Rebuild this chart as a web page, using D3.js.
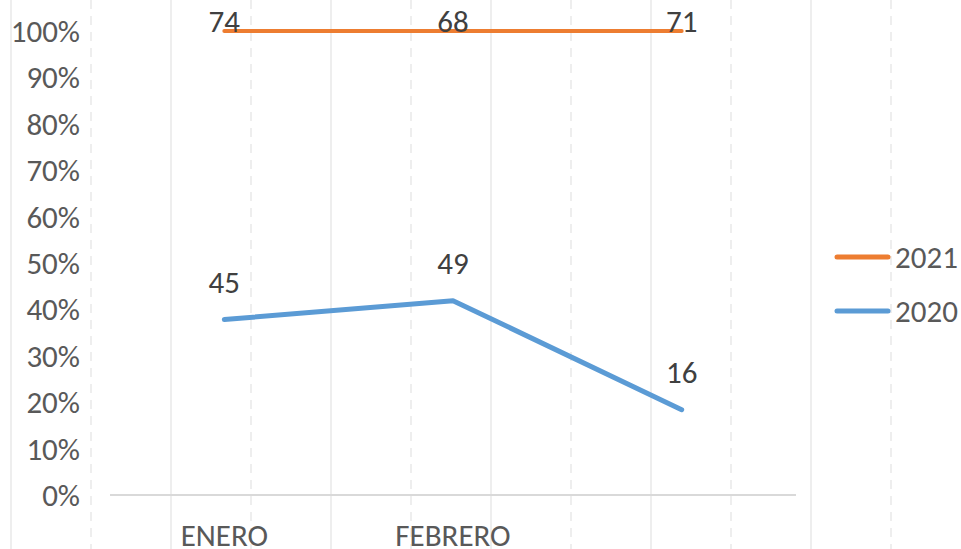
<!DOCTYPE html>
<html>
<head>
<meta charset="utf-8">
<script src="https://cdn.jsdelivr.net/npm/d3@7/dist/d3.min.js"></script>
<style>
  body { margin: 0; background: #fff; }
  svg { display: block; }
  text { font-family: Carlito, Calibri, "Open Sans", sans-serif; }
</style>
</head>
<body>
<svg id="chart" width="961" height="549"></svg>
<script>
(function() {
"use strict";

var categories = ["ENERO", "FEBRERO", ""];
var seriesNames = ["2021", "2020"];
var values2020 = [45, 49, 16];
var values2021 = [74, 68, 71];
var yTicks = [0, 0.1, 0.2, 0.3, 0.4, 0.5, 0.6, 0.7, 0.8, 0.9, 1];

var colors = { "2021": "#ED7D31", "2020": "#5B9BD5" };

var width = 961, height = 549;
var plot = { left: 110, right: 796, top: 31, bottom: 495 };

var svg = d3.select("#chart");

// page grid in the background (alternating solid / dashed)
var pageGrid = d3.range(11, width, 80);
svg.append("g")
  .selectAll("line")
  .data(pageGrid)
  .enter()
  .append("line")
  .attr("x1", function(d) { return d; })
  .attr("x2", function(d) { return d; })
  .attr("y1", 0)
  .attr("y2", height)
  .attr("stroke", "#eeeeee")
  .attr("stroke-width", 2)
  .attr("stroke-dasharray", function(d, i) { return i % 2 ? "9,7" : null; });

var x = d3.scaleBand()
  .domain(categories.map(function(d, i) { return i; }))
  .range([plot.left, plot.right]);

var y = d3.scaleLinear()
  .domain([0, 1])
  .range([plot.bottom, plot.top]);

// 100% stacked: 2020 first, 2021 on top
var stacked = categories.map(function(c, i) {
  var total = values2020[i] + values2021[i];
  return {
    i: i,
    v2020: values2020[i], v2021: values2021[i],
    s2020: values2020[i] / total,
    s2021: (values2020[i] + values2021[i]) / total
  };
});

// y axis labels
svg.append("g")
  .selectAll("text")
  .data(yTicks)
  .enter()
  .append("text")
  .attr("x", 80)
  .attr("y", function(d) { return y(d) + 11; })
  .attr("text-anchor", "end")
  .attr("font-size", 31)
  .attr("fill", "#595959")
  .text(d3.format(".0%"));

// x axis line
svg.append("line")
  .attr("x1", plot.left)
  .attr("x2", plot.right)
  .attr("y1", y(0))
  .attr("y2", y(0))
  .attr("stroke", "#d9d9d9")
  .attr("stroke-width", 2);

svg.append("g")
  .selectAll("text")
  .data(categories)
  .enter()
  .append("text")
  .attr("x", function(d, i) { return x(i) + x.bandwidth() / 2; })
  .attr("y", 546)
  .attr("text-anchor", "middle")
  .attr("font-size", 31)
  .attr("fill", "#595959")
  .text(function(d) { return d; });

var cx = function(d) { return x(d.i) + x.bandwidth() / 2; };

var series = [
  { name: "2021", key: "s2021", raw: "v2021" },
  { name: "2020", key: "s2020", raw: "v2020" }
];

series.forEach(function(s) {
  var line = d3.line()
    .x(cx)
    .y(function(d) { return y(d[s.key]); });

  svg.append("path")
    .datum(stacked)
    .attr("d", line)
    .attr("fill", "none")
    .attr("stroke", colors[s.name])
    .attr("stroke-width", s.name === "2021" ? 4 : 5)
    .attr("stroke-linecap", "round")
    .attr("stroke-linejoin", "round");

  svg.append("g")
    .selectAll("text")
    .data(stacked)
    .enter()
    .append("text")
    .attr("x", cx)
    .attr("y", function(d) { return Math.max(y(d[s.key]) - 27, 32); })
    .attr("text-anchor", "middle")
    .attr("font-size", 31)
    .attr("fill", "#404040")
    .text(function(d) { return d[s.raw]; });
});

// legend
var legend = svg.append("g")
  .selectAll("g")
  .data(seriesNames)
  .enter()
  .append("g")
  .attr("transform", function(d, i) { return "translate(0," + (257 + i * 54) + ")"; });

legend.append("line")
  .attr("x1", 837)
  .attr("x2", 888)
  .attr("stroke", function(d) { return colors[d]; })
  .attr("stroke-width", 5)
  .attr("stroke-linecap", "round");

legend.append("text")
  .attr("x", 895)
  .attr("y", 11)
  .attr("font-size", 31)
  .attr("fill", "#595959")
  .text(function(d) { return d; });

})();
</script>
</body>
</html>
